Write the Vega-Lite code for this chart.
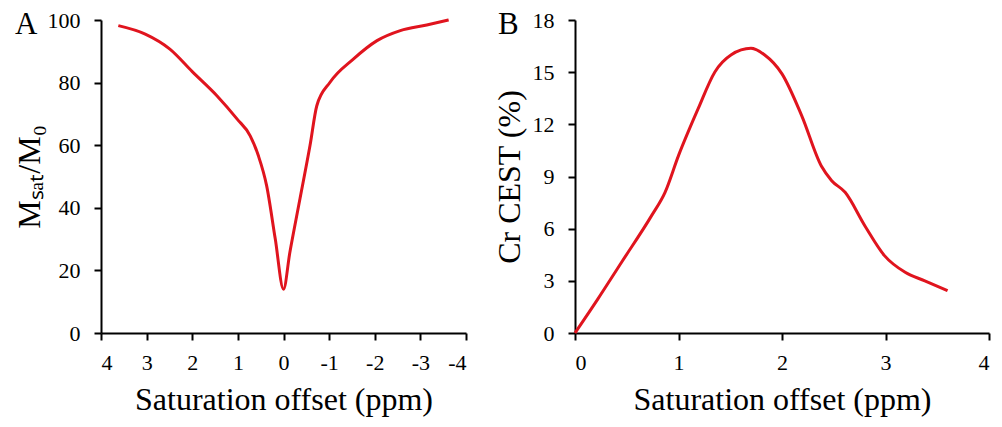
{
  "$schema": "https://vega.github.io/schema/vega-lite/v6.json",
  "background": "white",
  "padding": {"left": 13, "top": 9, "right": 5, "bottom": 5},
  "bounds": "flush",
  "spacing": 109,
  "config": {
    "font": "Liberation Serif",
    "view": {"stroke": null},
    "axis": {
      "domainColor": "black", "domainWidth": 2,
      "tickColor": "black", "tickWidth": 2, "tickSize": 7,
      "grid": false,
      "labelFont": "Liberation Serif, serif", "labelFontSize": 22, "labelColor": "black",
      "titleFont": "Liberation Serif", "titleFontSize": 32, "titleFontWeight": "normal", "titleColor": "black",
      "labelPadding": 14
    },
    "title": {"font": "Liberation Serif", "fontSize": 31, "fontWeight": "normal", "anchor": "start", "frame": "group", "color": "black"}
  },
  "hconcat": [
    {
      "width": 365, "height": 313,
      "title": {"text": "A", "dx": -86, "dy": 36},
      "data": {"values": [
        {"offset": 3.62, "msat": 98.2},
        {"offset": 3.03, "msat": 95.5},
        {"offset": 2.49, "msat": 90.7},
        {"offset": 2.0, "msat": 83.5},
        {"offset": 1.46, "msat": 75.8},
        {"offset": 1.02, "msat": 68.4},
        {"offset": 0.73, "msat": 63.0},
        {"offset": 0.55, "msat": 56.6},
        {"offset": 0.37, "msat": 47.1},
        {"offset": 0.18, "msat": 30.0},
        {"offset": 0.0, "msat": 14.0},
        {"offset": -0.14, "msat": 25.8},
        {"offset": -0.36, "msat": 42.8},
        {"offset": -0.58, "msat": 59.8},
        {"offset": -0.73, "msat": 72.6},
        {"offset": -1.02, "msat": 80.1},
        {"offset": -1.53, "msat": 87.5},
        {"offset": -2.05, "msat": 93.4},
        {"offset": -2.56, "msat": 96.6},
        {"offset": -3.14, "msat": 98.4},
        {"offset": -3.62, "msat": 100.0}
      ]},
      "mark": {"type": "line", "color": "#e0141e", "strokeWidth": 3, "interpolate": "monotone"},
      "encoding": {
        "x": {"field": "offset", "type": "quantitative", "scale": {"domain": [4, -4], "nice": false},
          "axis": {"values": [4, 3, 2, 1, 0, -1, -2, -3, -4], "labelExpr": "toString(datum.value)", "title": "Saturation offset (ppm)", "labelPadding": 12, "titlePadding": 11}},
        "y": {"field": "msat", "type": "quantitative", "scale": {"domain": [0, 100], "nice": false},
          "axis": {"values": [0, 20, 40, 60, 80, 100], "title": "Mₛₐₜ/M₀", "titlePadding": 1}}
      }
    },
    {
      "width": 414, "height": 313,
      "title": {"text": "B", "dx": -77, "dy": 36},
      "data": {"values": [
        {"offset": 0.0, "cest": 0.0},
        {"offset": 0.22, "cest": 1.95},
        {"offset": 0.45, "cest": 4.07},
        {"offset": 0.74, "cest": 6.75},
        {"offset": 0.87, "cest": 8.09},
        {"offset": 1.0, "cest": 10.2},
        {"offset": 1.19, "cest": 12.9},
        {"offset": 1.35, "cest": 15.0},
        {"offset": 1.51, "cest": 16.0},
        {"offset": 1.7, "cest": 16.37},
        {"offset": 1.83, "cest": 16.0},
        {"offset": 2.0, "cest": 14.9},
        {"offset": 2.19, "cest": 12.5},
        {"offset": 2.38, "cest": 9.6},
        {"offset": 2.48, "cest": 8.76},
        {"offset": 2.61, "cest": 8.09},
        {"offset": 2.8, "cest": 6.17},
        {"offset": 2.99, "cest": 4.45},
        {"offset": 3.19, "cest": 3.49},
        {"offset": 3.38, "cest": 3.0},
        {"offset": 3.6, "cest": 2.43}
      ]},
      "mark": {"type": "line", "color": "#e0141e", "strokeWidth": 3, "interpolate": "monotone"},
      "encoding": {
        "x": {"field": "offset", "type": "quantitative", "scale": {"domain": [0, 4], "nice": false},
          "axis": {"values": [0, 1, 2, 3, 4], "title": "Saturation offset (ppm)", "labelPadding": 12, "titlePadding": 11}},
        "y": {"field": "cest", "type": "quantitative", "scale": {"domain": [0, 18], "nice": false},
          "axis": {"values": [0, 3, 6, 9, 12, 15, 18], "title": "Cr CEST (%)", "titlePadding": 6}}
      }
    }
  ]
}
